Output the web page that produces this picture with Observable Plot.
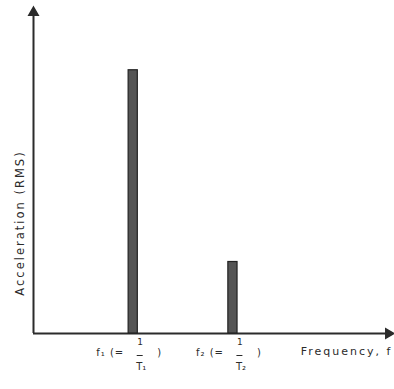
<!DOCTYPE html>
<html>
<head>
<meta charset="utf-8">
<script src="https://cdn.jsdelivr.net/npm/d3@7"></script>
<script src="https://cdn.jsdelivr.net/npm/@observablehq/plot@0.6"></script>
<style>
  html, body { margin: 0; padding: 0; background: #fff; }
  svg { display: block; }
  .spaced text { letter-spacing: 2px; }
  .tick text { letter-spacing: 1px; }
</style>
</head>
<body>
<div id="chart"></div>
<script>
// Data
const bars = ["f1", "f2"];
const frequencies = [1, 2];
const accelerations = [0.81, 0.22];
const tickLeft = ["f\u2081 (=", "f\u2082 (="];
const tickNum = ["1", "1"];
const tickDen = ["T\u2081", "T\u2082"];
const tickRight = [")", ")"];
const xLabel = "Frequency, f";
const yLabel = "Acceleration (RMS)";
const xDomain = [0, 3.6];
const yDomain = [0, 1];

const data = bars.map((b, i) => ({
  name: b, f: frequencies[i], a: accelerations[i],
  left: tickLeft[i], num: tickNum[i], den: tickDen[i], right: tickRight[i]
}));

const halfW = 0.046;
const ink = "#2b2b2b";
const font = "DejaVu Sans, sans-serif";

const chart = Plot.plot({
  width: 394,
  height: 389,
  marginLeft: 33,
  marginRight: 2,
  marginTop: 8,
  marginBottom: 56,
  style: { fontFamily: font, background: "#fff", color: ink },
  x: { domain: xDomain, axis: null },
  y: { domain: yDomain, axis: null },
  marks: [
    // axes
    Plot.ruleX([xDomain[0]], { y1: yDomain[0], y2: yDomain[1], stroke: ink, strokeWidth: 2 }),
    Plot.ruleY([yDomain[0]], { x1: xDomain[0], x2: xDomain[1], stroke: ink, strokeWidth: 2 }),
    Plot.dot([0], { x: xDomain[0], y: yDomain[1], symbol: "triangle", r: 3.5, fill: ink, stroke: ink, dy: 4 }),
    Plot.dot([0], { x: xDomain[1], y: yDomain[0], symbol: "triangle", r: 3.5, fill: ink, stroke: ink, rotate: 90, dx: -4 }),
    // bars
    Plot.rectY(data, { x1: d => d.f - halfW, x2: d => d.f + halfW, y1: 0, y2: "a", fill: "#555", stroke: "#222", strokeWidth: 1.2 }),
    // tick labels
    Plot.text(data, { x: "f", text: "left", frameAnchor: "bottom", textAnchor: "end", dx: -9, dy: 22, fontSize: 10, fill: ink, className: "tick" }),
    Plot.text(data, { x: "f", text: "num", frameAnchor: "bottom", dx: 7, dy: 11, fontSize: 9, fill: ink }),
    Plot.ruleY(data, { x1: d => d.f + 0.04, x2: d => d.f + 0.1, y: 0, dy: 22, stroke: ink, strokeWidth: 1 }),
    Plot.text(data, { x: "f", text: "den", frameAnchor: "bottom", dx: 8, dy: 36, fontSize: 10, fill: ink }),
    Plot.text(data, { x: "f", text: "right", frameAnchor: "bottom", dx: 26, dy: 22, fontSize: 10, fill: ink }),
    // axis labels
    Plot.text([xLabel], { text: d => d, frameAnchor: "bottom-right", textAnchor: "end", dy: 21, fontSize: 11, fill: ink, className: "spaced" }),
    Plot.text([yLabel], { text: d => d, frameAnchor: "left", y: 0.34, rotate: -90, textAnchor: "middle", dx: -13, fontSize: 11.5, fill: ink, className: "spaced" })
  ]
});
document.getElementById("chart").appendChild(chart);
</script>
</body>
</html>
